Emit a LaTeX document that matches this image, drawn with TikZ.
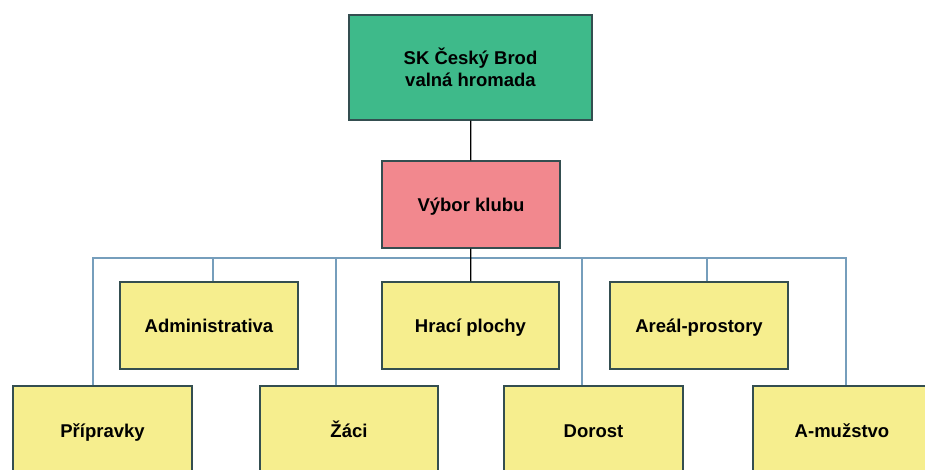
\documentclass[tikz,border=0pt]{standalone}
\usepackage{fontspec}
\setmainfont{Liberation Sans}
\usepackage{xcolor}
\definecolor{clubgreen}{RGB}{62,186,138}
\definecolor{clubpink}{RGB}{242,136,142}
\definecolor{clubyellow}{RGB}{246,238,142}
\definecolor{boxedge}{RGB}{52,78,80}
\definecolor{branchblue}{RGB}{118,158,188}

\begin{document}
\begin{tikzpicture}[x=1pt, y=1pt,
        unit/.style={draw=boxedge, line width=1.3pt, rectangle, inner sep=0pt,
            font=\fontsize{18.5}{22}\selectfont\bfseries, align=center},
        oneline/.style={unit, text height=18pt, text depth=4pt},
        branch/.style={draw=branchblue, line width=1.2pt}]
        \useasboundingbox (0, 0) rectangle (925, -470);
        \clip (0, 0) rectangle (925, -470);

        % vedeni klubu
        \node (hromada) at (470.5, -67.5) [unit, fill=clubgreen, minimum width=243, minimum height=105] {SK Český Brod\\valná hromada};
        \node (vybor) at (471, -204.5) [oneline, fill=clubpink, minimum width=178, minimum height=87] {Výbor klubu};

        % horni rada
        \node (admin) at (209, -325.5) [oneline, fill=clubyellow, minimum width=178, minimum height=87] {Administrativa};
        \node (hraci) at (470.5, -325.5) [oneline, fill=clubyellow, minimum width=177, minimum height=87] {Hrací plochy};
        \node (areal) at (699, -325.5) [oneline, fill=clubyellow, minimum width=178, minimum height=87] {Areál-prostory};

        % dolni rada
        \node (pripravky) at (102.5, -430) [oneline, fill=clubyellow, minimum width=179, minimum height=88] {Přípravky};
        \node (zaci) at (349, -430) [oneline, fill=clubyellow, minimum width=178, minimum height=88] {Žáci};
        \node (dorost) at (593.5, -430) [oneline, fill=clubyellow, minimum width=179, minimum height=88] {Dorost};
        \node (amuzstvo) at (842, -430) [oneline, fill=clubyellow, minimum width=178, minimum height=88] {A-mužstvo};

        \coordinate (bus) at (0, -258);
        \path[branch] ([xshift=-9.5pt]pripravky.north) |- ([xshift=4pt]amuzstvo.north |- bus) -- ([xshift=4pt]amuzstvo.north);
        \path[branch] ([xshift=4pt]admin.north) -- ([xshift=4pt]admin.north |- bus);
        \path[branch] ([xshift=-13pt]zaci.north) -- ([xshift=-13pt]zaci.north |- bus);
        \path[branch] ([xshift=-11.5pt]dorost.north) -- ([xshift=-11.5pt]dorost.north |- bus);
        \path[branch] ([xshift=8pt]areal.north) -- ([xshift=8pt]areal.north |- bus);

        \draw[line width=1.2pt] (hromada) -- (vybor);
        \draw[line width=1.2pt] (vybor) -- (hraci);
    \end{tikzpicture}
\end{document}
